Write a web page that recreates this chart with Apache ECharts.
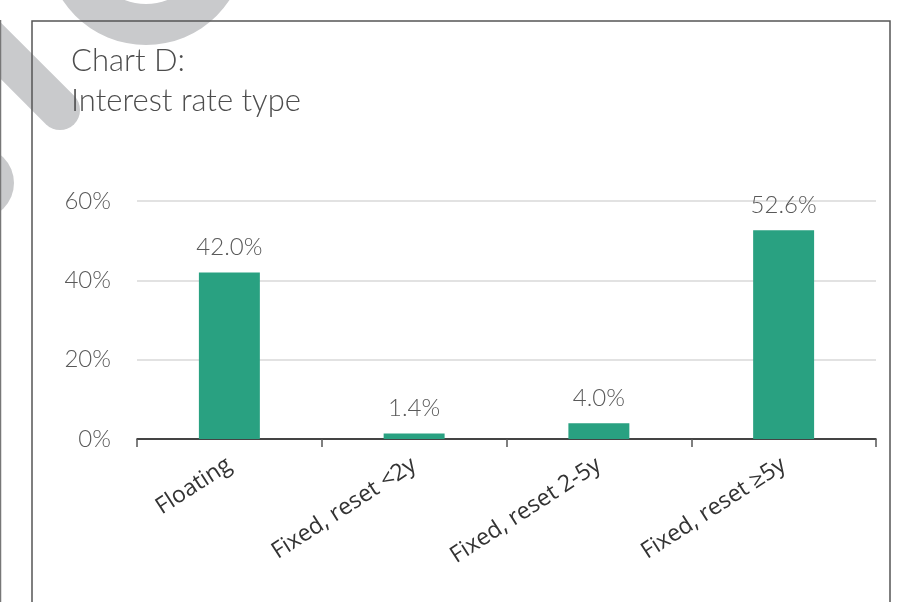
<!DOCTYPE html>
<html>
<head>
<meta charset="utf-8">
<script src="https://cdn.jsdelivr.net/npm/echarts@6/dist/echarts.min.js"></script>
<style>
  html, body { margin: 0; padding: 0; background: #fff; }
  #chart { width: 902px; height: 602px; }
</style>
</head>
<body>
<div id="chart"></div>
<script>
  // chart data
  var categories = ['Floating', 'Fixed, reset <2y', 'Fixed, reset 2-5y', 'Fixed, reset \u22655y']
  var shares = [42.0, 1.4, 4.0, 52.6]
  var titleLines = ['Chart D:', 'Interest rate type']

  var lightFont = 'Lato'
  var labelFont = '"Open Sans", "Noto Sans", sans-serif'
  var watermark = '#c9cacc'

  var chart = echarts.init(document.getElementById('chart'))

  chart.setOption({
    animation: false,
    backgroundColor: '#fff',
    grid: {
      left: 137,
      right: 26,
      top: 201,
      bottom: 163
    },
    graphic: [
      // faded watermark pieces behind the chart
      {
        type: 'ring', silent: true, z: -10,
        shape: { cx: 146, cy: -55, r: 100, r0: 59 },
        style: { fill: watermark }
      },
      {
        type: 'line', silent: true, z: -10,
        shape: { x1: -40, y1: 10, x2: 60, y2: 110 },
        style: { stroke: watermark, lineWidth: 40, lineCap: 'round' }
      },
      {
        type: 'circle', silent: true, z: -10,
        shape: { cx: -22, cy: 183, r: 36 },
        style: { fill: watermark }
      },
      // frame lines
      {
        type: 'line', silent: true, z: 5,
        shape: { x1: 0.5, y1: 20, x2: 0.5, y2: 610 },
        style: { stroke: '#777', lineWidth: 1.5 }
      },
      {
        type: 'rect', silent: true, z: 5,
        shape: { x: 32, y: 21, width: 858, height: 600 },
        style: { fill: null, stroke: '#555', lineWidth: 1.5 }
      },
      {
        type: 'text', silent: true, z: 6,
        left: 71, top: 41,
        style: {
          text: titleLines.join('\n'),
          font: '300 31px ' + lightFont,
          lineHeight: 40,
          fill: '#4d4d4d'
        }
      }
    ],
    xAxis: {
      type: 'category',
      data: categories,
      axisLine: { lineStyle: { color: '#111', width: 1.5 } },
      axisTick: { show: true, length: 8, lineStyle: { color: '#555', width: 1.5 } },
      axisLabel: {
        rotate: 33,
        margin: 24,
        interval: 0,
        color: '#333',
        fontFamily: labelFont,
        fontSize: 23
      }
    },
    yAxis: {
      type: 'value',
      min: 0,
      max: 60,
      interval: 20,
      axisLine: { show: false },
      axisTick: { show: false },
      splitLine: { lineStyle: { color: '#d9d9d9', width: 1.5 } },
      axisLabel: {
        formatter: '{value}%',
        margin: 26,
        color: '#595959',
        fontFamily: lightFont,
        fontWeight: 300,
        fontSize: 24
      }
    },
    series: [{
      type: 'bar',
      data: shares,
      barWidth: '33%',
      itemStyle: { color: '#29a181' },
      label: {
        show: true,
        position: 'top',
        distance: 13,
        formatter: function (p) { return p.value.toFixed(1) + '%' },
        color: '#595959',
        fontFamily: lightFont,
        fontWeight: 300,
        fontSize: 24
      }
    }]
  })
</script>
</body>
</html>
